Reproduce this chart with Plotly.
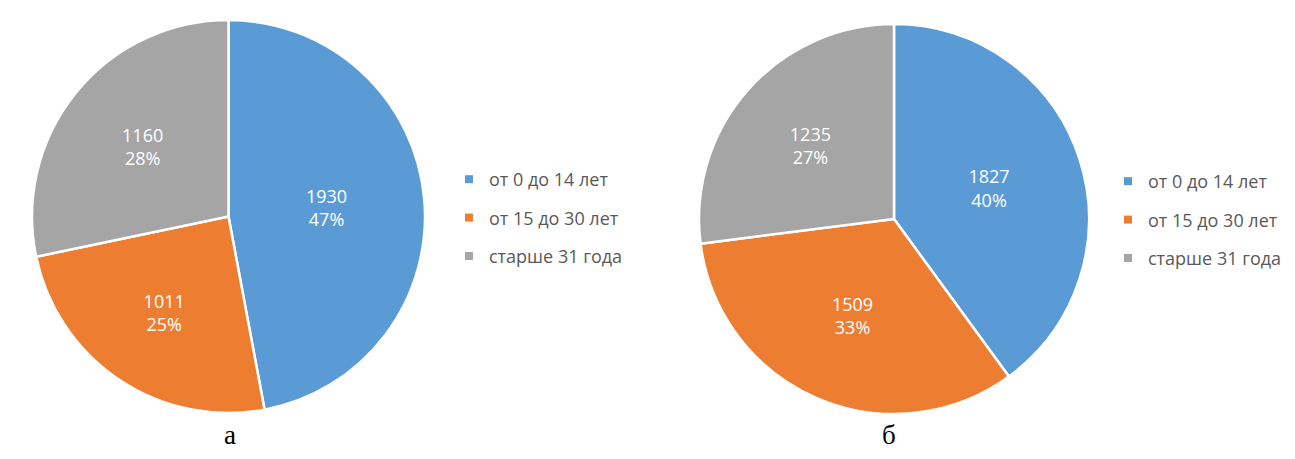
import plotly.graph_objects as go

categories = ["от 0 до 14 лет", "от 15 до 30 лет", "старше 31 года"]
values_a = [1930, 1011, 1160]
values_b = [1827, 1509, 1235]
panel_labels = ["а", "б"]
colors = ["#5B9BD5", "#ED7D31", "#A5A5A5"]

# page is 1295x459 with the browser's default 8px body margin
PAD = 8
W, H = 1295 - 2 * PAD, 459 - 2 * PAD

def px_x(v):
    return (v - PAD) / W

def px_y(v):
    return 1 - (v - PAD) / H

fig = go.Figure()

pie_common = dict(
    labels=categories,
    sort=False,
    direction="clockwise",
    rotation=0,
    marker=dict(colors=colors, line=dict(color="white", width=2.5)),
    texttemplate="%{value}<br>%{percent:.0%}",
    textposition="inside",
    insidetextorientation="horizontal",
    textfont=dict(family="Open Sans", size=18, color="white"),
    showlegend=False,
    hoverinfo="label+value+percent",
)

fig.add_trace(go.Pie(values=values_a,
                     domain=dict(x=[px_x(32), px_x(425)], y=[px_y(413), px_y(20)]),
                     **pie_common))
fig.add_trace(go.Pie(values=values_b,
                     domain=dict(x=[px_x(699), px_x(1089)], y=[px_y(414), px_y(24)]),
                     **pie_common))

for lg in ["legend", "legend2"]:
    for cat, col in zip(categories, colors):
        fig.add_trace(go.Scatter(
            x=[None], y=[None], mode="markers", name=cat,
            marker=dict(symbol="square", size=8, color=col),
            legend=lg, legendgroup=lg + cat, showlegend=True,
            hoverinfo="skip",
        ))

legend_common = dict(
    font=dict(family="Open Sans", size=18, color="#595959"),
    bgcolor="rgba(0,0,0,0)",
    tracegroupgap=12,
    itemwidth=30,
    xanchor="left",
    yanchor="middle",
)

fig.update_layout(
    width=W, height=H,
    margin=dict(l=0, r=0, t=0, b=0),
    paper_bgcolor="white",
    plot_bgcolor="white",
    xaxis=dict(visible=False),
    yaxis=dict(visible=False),
    legend=dict(x=px_x(449), y=px_y(218), **legend_common),
    legend2=dict(x=px_x(1108), y=px_y(220), **legend_common),
    annotations=[
        dict(text=panel_labels[0], x=px_x(230), y=0, xref="paper", yref="paper",
             showarrow=False, xanchor="center", yanchor="bottom", borderpad=0,
             font=dict(family="Liberation Serif", size=27, color="#000000")),
        dict(text=panel_labels[1], x=px_x(889), y=0, xref="paper", yref="paper",
             showarrow=False, xanchor="center", yanchor="bottom", borderpad=0,
             font=dict(family="Liberation Serif", size=27, color="#000000")),
    ],
)

fig.write_html("out.html")
